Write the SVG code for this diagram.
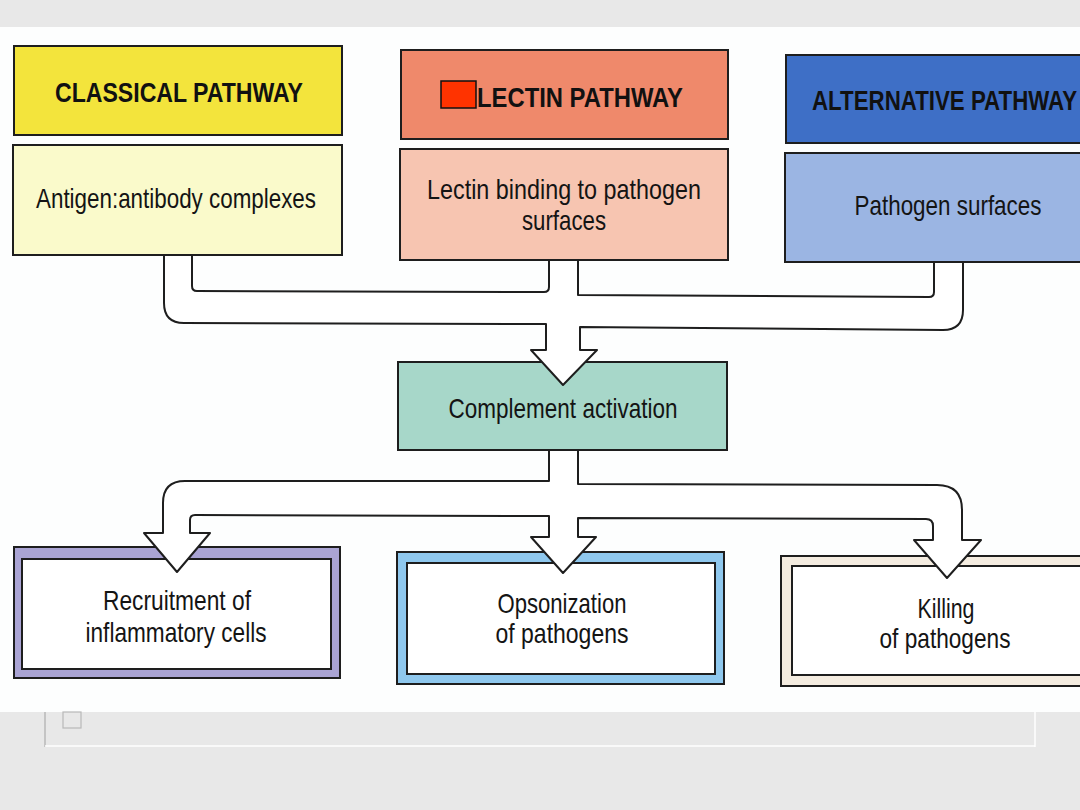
<svg xmlns="http://www.w3.org/2000/svg" width="1080" height="810" viewBox="0 0 1080 810">
<style>
.box{stroke:#1e1e1e;stroke-width:2}
.t{font-family:"Liberation Sans Narrow","Liberation Sans",Arial,sans-serif;font-size:28px;fill:#141414;text-anchor:middle}
.h{font-family:"Liberation Sans Narrow","Liberation Sans",Arial,sans-serif;font-size:27px;font-weight:bold;fill:#111}
.conn{fill:#fff;stroke:#1e1e1e;stroke-width:2;stroke-linejoin:round}
</style>
<rect x="0" y="0" width="1080" height="810" fill="#e8e8e8"/>
<rect x="0" y="27" width="1080" height="685" fill="#fdfefe"/>
<g id="slide-frame">
<line x1="45" y1="712" x2="45" y2="747" stroke="#b8b8b8" stroke-width="1.5"/>
<line x1="45" y1="746" x2="1035" y2="746" stroke="#ffffff" stroke-width="1.5"/>
<line x1="1035" y1="712" x2="1035" y2="747" stroke="#ffffff" stroke-width="1.5"/>
<rect x="63" y="712" width="18" height="16" fill="#e8e8e8" stroke="#b8b8b8" stroke-width="1.2"/>
</g>

<g id="classical-header">
<rect class="box" x="14" y="46" width="328" height="89" fill="#f3e43c"/>
<text class="h" x="55" y="102" textLength="248" lengthAdjust="spacingAndGlyphs">CLASSICAL PATHWAY</text>
</g>
<g id="classical-body">
<rect class="box" x="13" y="145" width="329" height="110" fill="#fafacb"/>
<text class="t" x="176" y="208" textLength="280" lengthAdjust="spacingAndGlyphs">Antigen:antibody complexes</text>
</g>

<g id="lectin-header">
<rect class="box" x="401" y="50" width="327" height="89" fill="#ef896b"/>
<text class="h" x="477" y="107" textLength="206" lengthAdjust="spacingAndGlyphs">LECTIN PATHWAY</text>
<rect x="441" y="81" width="35" height="27" fill="#ff3300" stroke="#111" stroke-width="1.5"/>
</g>
<g id="lectin-body">
<rect class="box" x="400" y="149" width="328" height="111" fill="#f7c5b1"/>
<text class="t" x="564" y="199" textLength="274" lengthAdjust="spacingAndGlyphs">Lectin binding to pathogen</text>
<text class="t" x="564" y="230" textLength="84" lengthAdjust="spacingAndGlyphs">surfaces</text>
</g>

<g id="alternative-header">
<rect class="box" x="786" y="55" width="300" height="88" fill="#3e6fc6"/>
<text class="h" x="812" y="110" textLength="265" lengthAdjust="spacingAndGlyphs">ALTERNATIVE PATHWAY</text>
</g>
<g id="alternative-body">
<rect class="box" x="785" y="153" width="300" height="109" fill="#9bb5e3"/>
<text class="t" x="948" y="215" textLength="187" lengthAdjust="spacingAndGlyphs">Pathogen surfaces</text>
</g>

<g id="complement-activation">
<rect class="box" x="398" y="362" width="329" height="88" fill="#a7d7c9"/>
<text class="t" x="563" y="418" textLength="229" lengthAdjust="spacingAndGlyphs">Complement activation</text>
</g>

<g id="recruitment">
<rect class="box" x="14" y="547" width="326" height="131" fill="#aaa4d4"/>
<rect class="box" x="22" y="559" width="309" height="110" fill="#ffffff"/>
<text class="t" x="177" y="610" textLength="148" lengthAdjust="spacingAndGlyphs">Recruitment of</text>
<text class="t" x="176" y="642" textLength="181" lengthAdjust="spacingAndGlyphs">inflammatory cells</text>
</g>

<g id="opsonization">
<rect class="box" x="397" y="552" width="327" height="132" fill="#8fc8ee"/>
<rect class="box" x="407" y="563" width="308" height="111" fill="#ffffff"/>
<text class="t" x="562" y="613" textLength="129" lengthAdjust="spacingAndGlyphs">Opsonization</text>
<text class="t" x="562" y="643" textLength="133" lengthAdjust="spacingAndGlyphs">of pathogens</text>
</g>

<g id="killing">
<rect class="box" x="781" y="556" width="305" height="130" fill="#f4ece0"/>
<rect class="box" x="792" y="566" width="294" height="109" fill="#ffffff"/>
<text class="t" x="946" y="618" textLength="57" lengthAdjust="spacingAndGlyphs">Killing</text>
<text class="t" x="945" y="648" textLength="131" lengthAdjust="spacingAndGlyphs">of pathogens</text>
</g>

<g id="connectors">
<path class="conn" d="M164,255 L164,303 Q164,323 184,323 L546,324 L546,350 L531,350 L563,385 L597,350 L580,350 L580,327 L943,330 Q963,330 963,310 L963,262 L934,262 L934,292 Q934,297 929,297 L578,295 L578,260 L549,260 L549,287 Q549,292 544,292 L197,291 Q192,291 192,286 L192,255 Z"/>
<path class="conn" d="M549,450 L549,481 L185,481 Q163,481 163,503 L163,533 L144,533 L177,572 L210,533 L190,533 L190,520 Q190,515 195,515 L549,516 L549,537 L531,537 L563,573 L596,537 L578,537 L578,518 L926,519 Q933,519 933,526 L933,540 L914,540 L947,578 L981,540 L962,540 L962,510 Q962,485 937,485 L578,484 L578,450 Z"/>
</g>
</svg>
